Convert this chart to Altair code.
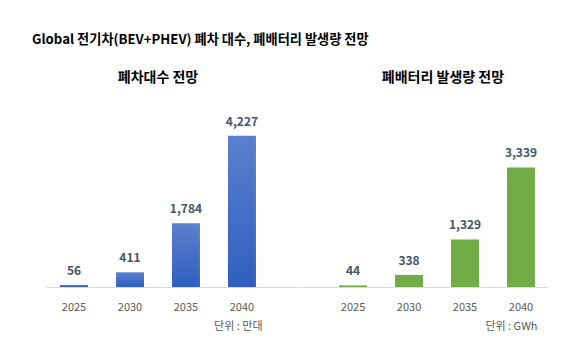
import altair as alt
import pandas as pd

years = ["2025", "2030", "2035", "2040"]
scrapped_vehicles = [56, 411, 1784, 4227]      # 만대
waste_battery = [44, 338, 1329, 3339]          # GWh

main_title = "Global 전기차(BEV+PHEV) 폐차 대수, 폐배터리 발생량 전망"
left_title = "폐차대수 전망"
right_title = "폐배터리 발생량 전망"
left_unit = "단위 : 만대"
right_unit = "단위 : GWh"

FONT = "Noto Sans CJK KR"

df_left = pd.DataFrame({"year": years, "value": scrapped_vehicles})
df_right = pd.DataFrame({"year": years, "value": waste_battery})

blue_grad = alt.Gradient(
    gradient="linear",
    stops=[alt.GradientStop(color="#5b80cd", offset=0),
           alt.GradientStop(color="#2f5fc0", offset=1)],
    x1=0, x2=0, y1=0, y2=1,
)


def panel(df, title, unit, color, width, pad_outer, align, unit_x, title_dx):
    base = alt.Chart(df).encode(
        x=alt.X(
            "year:N",
            sort=years,
            scale=alt.Scale(paddingInner=0.5, paddingOuter=pad_outer, align=align),
            axis=alt.Axis(
                title=unit,
                titleX=unit_x,
                titleY=39,
                titleAlign="right",
                titleBaseline="middle",
                titleFont=FONT,
                titleFontSize=11,
                titleFontWeight="normal",
                titleColor="#595959",
                labelAngle=0,
                labelFont=FONT,
                labelFontSize=11,
                labelColor="#595959",
                labelPadding=14,
                ticks=False,
                domainColor="#d9d9d9",
                domainWidth=1,
            ),
        ),
        y=alt.Y("value:Q", scale=alt.Scale(domain=[0, 5000]), axis=None),
    )
    bars = base.mark_bar(color=color)
    labels = base.mark_text(
        baseline="bottom", dy=-7, font=FONT, fontSize=12, fontWeight="bold",
        color="#44546a",
    ).encode(text=alt.Text("value:Q", format=","))
    return (bars + labels).properties(
        width=width,
        height=179,
        title=alt.TitleParams(
            title, font=FONT, fontSize=14, fontWeight="bold", color="#000000",
            anchor="middle", offset=23, dx=title_dx,
        ),
    )


left = panel(df_left, left_title, left_unit, blue_grad, 254, 0.518, 0.241, 216, -15)
right = panel(df_right, right_title, right_unit, "#70ad47", 248, 0.465, 0.75, 237, 19)

chart = alt.hconcat(left, right, spacing=0).properties(
    title=alt.TitleParams(
        main_title, font=FONT, fontSize=13.2, fontWeight="bold", color="#000000",
        anchor="start", dx=-14, offset=24,
    ),
    padding={"left": 32, "top": 32, "right": 0, "bottom": 0},
    background="#ffffff",
).configure_view(stroke=None)

chart.save("out.html", embed_options={"renderer": "svg", "actions": False})
